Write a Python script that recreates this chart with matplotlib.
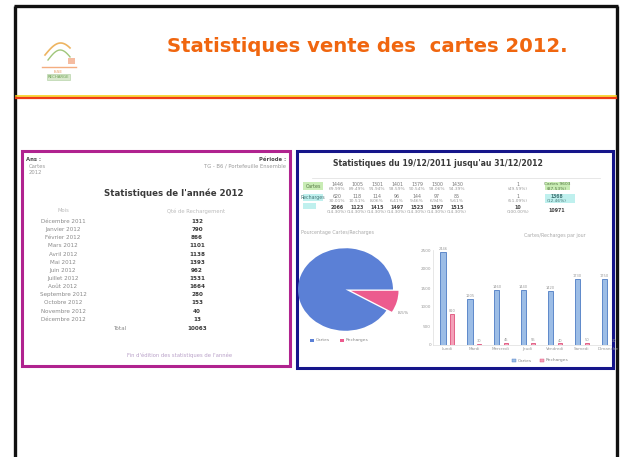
import matplotlib
matplotlib.use("Agg")
import matplotlib.pyplot as plt
from matplotlib.patches import Rectangle
import numpy as np

W, H = 621, 457

# ---------------- data ----------------
slide_title = "Statistiques vente des  cartes 2012."
left_title = "Statistiques de l'année 2012"
months = ["Décembre 2011", "Janvier 2012", "Février 2012", "Mars 2012", "Avril 2012",
          "Mai 2012", "Juin 2012", "Juillet 2012", "Août 2012", "Septembre 2012",
          "Octobre 2012", "Novembre 2012", "Décembre 2012"]
month_values = [132, 790, 866, 1101, 1138, 1393, 962, 1531, 1664, 280, 153, 40, 13]
total_label = "Total"

right_title = "Statistiques du 19/12/2011 jusqu'au 31/12/2012"
table_rows = ["Cartes", "Recharges", ""]
table_cartes = ["1446", "1005", "1301", "1401", "1379", "1300", "1430"]
table_recharges = ["620", "118", "114", "96", "144", "97", "85"]
table_totals = ["2066", "1123", "1415", "1497", "1523", "1397", "1515"]

pie_labels = ["Recharges", "Cartes"]
pie_values = [8.5, 91.5]
pie_colors = ["#ec5b8e", "#5b80d6"]

days = ["Lundi", "Mardi", "Mercredi", "Jeudi", "Vendredi", "Samedi", "Dimanche"]
bar_cartes = [2446, 1205, 1460, 1440, 1420, 1730, 1750]
bar_recharges = [810, 30, 45, 55, 40, 50, 30]
bar_ticks = [0, 500, 1000, 1500, 2000, 2500]

# ---------------- helpers ----------------
fig = plt.figure(figsize=(W / 100, H / 100), dpi=100)
fig.patch.set_facecolor("white")


def fx(x):
    return x / W


def fy(y):
    return 1 - y / H


def rect(x0, y0, x1, y1, zorder=1, **kw):
    r = Rectangle((fx(x0), fy(y1)), (x1 - x0) / W, (y1 - y0) / H,
                  transform=fig.transFigure, zorder=zorder, **kw)
    fig.add_artist(r)
    return r


def line(xs, ys, **kw):
    fig.add_artist(plt.Line2D([fx(x) for x in xs], [fy(y) for y in ys],
                              transform=fig.transFigure, **kw))


def text(x, y, s, **kw):
    kw.setdefault("ha", "center")
    kw.setdefault("va", "center")
    return fig.text(fx(x), fy(y), s, **kw)


def axes_px(x0, y0, x1, y1):
    a = fig.add_axes([fx(x0), fy(y1), (x1 - x0) / W, (y1 - y0) / H])
    a.set_zorder(5)
    return a


# ---------------- slide frame ----------------
line([14.5, 14.5], [460, 5.5], color="#111111", lw=2.4, solid_capstyle="butt")
line([617, 617], [460, 5.5], color="#111111", lw=2.4, solid_capstyle="butt")
line([13.5, 618], [5.5, 5.5], color="#111111", lw=2.4, solid_capstyle="butt")

# header lines
line([16, 615.5], [96.3, 96.3], color="#f6d21a", lw=1.2)
line([16, 615.5], [98.3, 98.3], color="#ef3b16", lw=1.6)

# title
text(367, 46, slide_title, fontsize=14.1, fontweight="bold", color="#f0660f",
     family=["DejaVu Sans"])

# logo (simple sketch)
t = np.linspace(0, 1, 30)
line(45 + 25 * t, 55 - 12 * np.sin(np.pi * t * 0.8), color="#e9a23a", lw=1.2, alpha=0.8)
line(48 + 22 * t, 60 - 10 * np.sin(np.pi * t * 0.9), color="#88b85a", lw=1.0, alpha=0.8)
line([42, 76], [67, 67], color="#f08a4a", lw=1.0, alpha=0.7)
rect(68, 58, 75, 64, facecolor="#f1a07a", edgecolor="none", alpha=0.7)
text(58, 72, "ISSE", fontsize=3, color="#e0803a", alpha=0.8)
rect(47, 74, 70, 80, facecolor="#cfe3c0", edgecolor="#9bc38a", lw=0.4, alpha=0.8)
text(58, 77, "RECHARGE", fontsize=2.8, color="#6aa050")

# ---------------- left box ----------------
rect(22, 151, 290, 366, zorder=0.5, facecolor="white", edgecolor="#b0238f", lw=2.2)
g_light = "#9a9a9a"
g_dark = "#4a4a4a"
text(26, 159, "Ans :", fontsize=3.8, color=g_dark, fontweight="bold", ha="left")
text(29, 166, "Cartes", fontsize=3.8, color=g_light, ha="left")
text(29, 172, "2012", fontsize=3.8, color=g_light, ha="left")
text(286, 159, "Période :", fontsize=3.8, color=g_dark, fontweight="bold", ha="right")
text(286, 166, "TG - B6 / Portefeuille Ensemble", fontsize=3.8, color=g_light, ha="right")

text(174, 193, left_title, fontsize=6.2, fontweight="bold", color="#3a3a3a")
text(63, 211, "Mois", fontsize=3.8, color="#bbbbbb")
text(196, 211, "Qté de Rechargement", fontsize=3.8, color="#bbbbbb")

row_y0, row_dy = 221.5, 8.15
for i, (m, v) in enumerate(zip(months, month_values)):
    y = row_y0 + i * row_dy
    text(63, y, m, fontsize=4.1, color="#8a8a8a")
    text(197, y, str(v), fontsize=4.1, color="#3a3a3a", fontweight="bold")
yt = row_y0 + len(months) * row_dy + 1
text(121, yt, total_label, fontsize=4.1, color="#8a8a8a")
text(197, yt, str(sum(month_values)), fontsize=4.1, color="#3a3a3a", fontweight="bold")
text(180, 355, "Fin d'édition des statistiques de l'année", fontsize=3.8, color="#b9a0c8")

# ---------------- right box ----------------
rect(297, 151, 613, 368, zorder=0.5, facecolor="white", edgecolor="#15158a", lw=2.2)
text(438, 164, right_title, fontsize=5.6, fontweight="bold", color="#3a3a3a")
line([312, 600], [178, 178], color="#dddddd", lw=0.5)

col_x = [337, 357, 377, 397, 417, 437, 457]
rect(303, 182, 323, 190, facecolor="#c9ecb5", edgecolor="none")
text(313, 186, table_rows[0], fontsize=3.4, color="#557744")
rect(303, 194, 323, 201, facecolor="#bff0ee", edgecolor="none")
text(313, 197.5, table_rows[1], fontsize=3.4, color="#447777")
rect(303, 203, 316, 209, facecolor="#bff0ee", edgecolor="none")
for j, x in enumerate(col_x):
    text(x, 184, table_cartes[j], fontsize=3.4, color="#777777")
    text(x, 189, "%.2f%%" % (100 * int(table_cartes[j]) / int(table_totals[j])),
         fontsize=3.2, color="#999999")
    text(x, 196, table_recharges[j], fontsize=3.4, color="#777777")
    text(x, 201, "%.2f%%" % (100 * int(table_recharges[j]) / int(table_totals[j])),
         fontsize=3.2, color="#999999")
    text(x, 207, table_totals[j], fontsize=3.4, color="#444444", fontweight="bold")
    text(x, 212, "(14.30%)", fontsize=3.2, color="#999999")
text(518, 184, "1", fontsize=3.4, color="#777777")
text(518, 189, "(49.59%)", fontsize=3.2, color="#999999")
text(518, 196, "1", fontsize=3.4, color="#777777")
text(518, 201, "(51.09%)", fontsize=3.2, color="#999999")
text(518, 207, "10", fontsize=3.4, color="#444444", fontweight="bold")
text(518, 212, "(100.00%)", fontsize=3.2, color="#999999")
rect(545, 182, 570, 190, facecolor="#c9ecb5", edgecolor="none")
text(557, 184, "Cartes 9603", fontsize=3.2, color="#557744")
text(557, 188.5, "(87.53%)", fontsize=3.2, color="#557744")
rect(545, 194, 575, 203, facecolor="#bff0ee", edgecolor="none")
text(557, 196, "1368", fontsize=3.3, color="#447777", fontweight="bold")
text(557, 200.5, "(12.46%)", fontsize=3.2, color="#447777")
text(557, 211, "10971", fontsize=3.4, color="#444444", fontweight="bold")

# ---------------- pie ----------------
text(301, 233, "Pourcentage Cartes/Recharges", fontsize=3.4, color="#aaaaaa", ha="left")
axp = axes_px(298, 247, 402, 332)
wedges, _ = axp.pie(pie_values, colors=pie_colors, startangle=0, counterclock=False,
                    explode=[0.12, 0], radius=1.0,
                    wedgeprops=dict(linewidth=0, antialiased=True))
axp.set_aspect("auto")
axp.set_xlim(-1.0, 1.19)
axp.set_ylim(-1.03, 1.03)
axp.axis("off")
text(403, 313, "%.1f%%" % pie_values[0], fontsize=3.2, color="#888888")
# pie legend
rect(310, 338.5, 314, 341.5, facecolor=pie_colors[1], edgecolor="none")
text(316, 340, pie_labels[1], fontsize=3.2, color="#888888", ha="left")
rect(340, 338.5, 344, 341.5, facecolor=pie_colors[0], edgecolor="none")
text(346, 340, pie_labels[0], fontsize=3.2, color="#888888", ha="left")

# ---------------- bar chart ----------------
text(586, 235, "Cartes/Recharges par jour", fontsize=3.4, color="#aaaaaa", ha="right")
axb = axes_px(433, 250, 611, 345)
xs = np.arange(len(days))
axb.bar(xs - 0.15, bar_cartes, width=0.2, color="#9cbde6", edgecolor="#4d7bc4", lw=0.6)
axb.bar(xs + 0.2, bar_recharges, width=0.14, color="#f3a0b8", edgecolor="#e0507a", lw=0.6)
for i in xs:
    axb.text(i - 0.15, bar_cartes[i] + 25, str(bar_cartes[i]), fontsize=2.6,
             color="#999999", ha="center", va="bottom")
    axb.text(i + 0.2, bar_recharges[i] + 25, str(bar_recharges[i]), fontsize=2.6,
             color="#999999", ha="center", va="bottom")
axb.set_xlim(-0.52, 6.1)
axb.set_ylim(0, 2500)
axb.set_yticks(bar_ticks)
axb.set_yticklabels([str(t) for t in bar_ticks], fontsize=3, color="#999999")
axb.set_xticks(xs)
axb.set_xticklabels(days, fontsize=3, color="#999999")
axb.tick_params(length=0, pad=1.5)
for s in ["top", "right"]:
    axb.spines[s].set_visible(False)
axb.spines["left"].set_color("#dddddd")
axb.spines["bottom"].set_color("#dddddd")
axb.spines["left"].set_linewidth(0.5)
axb.spines["bottom"].set_linewidth(0.5)
axb.set_facecolor("none")
# bar legend
rect(512, 359, 516, 362, facecolor="#9cbde6", edgecolor="#4d7bc4", lw=0.3)
text(518, 360.5, "Cartes", fontsize=3.2, color="#888888", ha="left")
rect(540, 359, 544, 362, facecolor="#f3a0b8", edgecolor="#e0507a", lw=0.3)
text(546, 360.5, "Recharges", fontsize=3.2, color="#888888", ha="left")

fig.savefig("out.png", dpi=100, facecolor="white")
